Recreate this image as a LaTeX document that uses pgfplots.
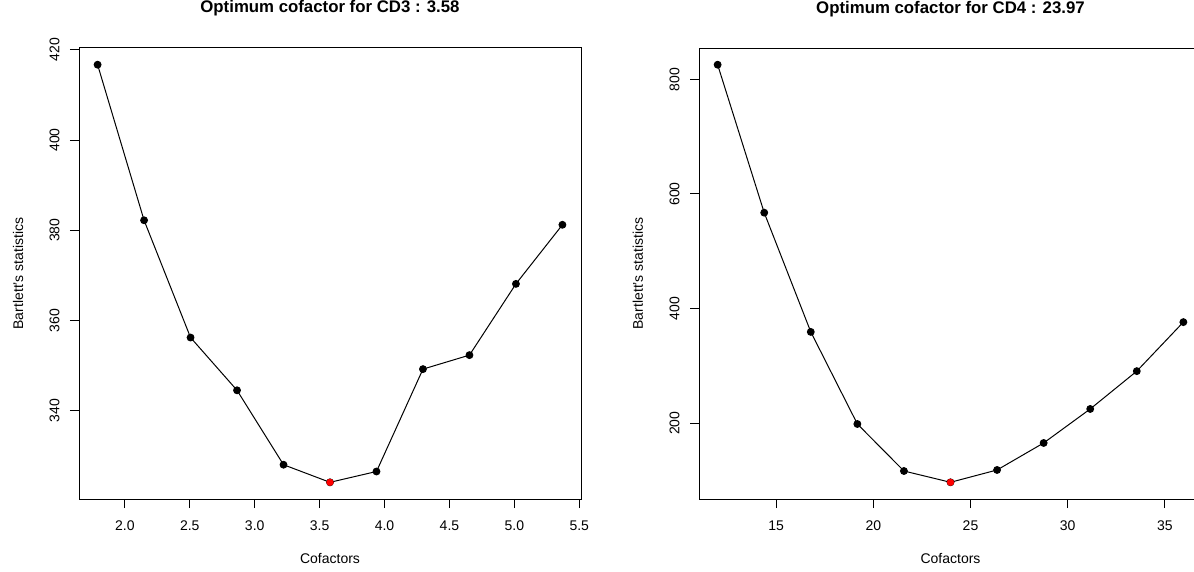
\documentclass[border=0pt]{standalone}
\usepackage{fontspec}
\setmainfont{Liberation Sans}
\usepackage{pgfplots}
\pgfplotsset{compat=1.18}

\pgfplotsset{
  rbase/.style={
    scale only axis,
    axis line style={line width=1pt},
    tick style={line width=1pt,black},
    tick align=outside,
    major tick length=9pt,
    xtick pos=bottom, ytick pos=left,
    /pgf/number format/assume math mode=true,
    tick label style={font=\fontsize{14}{17}\selectfont},
    label style={font=\fontsize{14}{17}\selectfont},
    title style={font=\bfseries\fontsize{16.8}{20}\selectfont,
      at={(axis description cs:0.5,1.0643)},anchor=base,yshift=0pt},
    yticklabel style={rotate=90,anchor=south},
    xticklabel shift=9pt,
    yticklabel shift=7pt,
    xlabel={Cofactors},
    ylabel={Bartlett's statistics},
  },
  curve/.style={black,line width=1pt,mark=*,mark size=3.4pt},
  best/.style={only marks,mark=*,mark size=3.4pt,color=red},
}

\begin{document}
\begin{tikzpicture}[x=1pt,y=1pt]
\useasboundingbox (0,0) rectangle (1194,571);
\clip (0,0) rectangle (1194,571);

% CD3
\begin{axis}[rbase,
  at={(79pt,72pt)}, anchor=south west,
  width=502pt, height=451pt,
  xmin=1.6468, xmax=5.5132, ymin=320.40, ymax=420.40,
  xtick={2,2.5,...,5.5},
  xticklabel style={/pgf/number format/.cd,fixed,fixed zerofill,precision=1},
  ytick={340,360,380,400,420},
  title={Optimum cofactor for CD3 : 3.58},
  xlabel style={at={(axis description cs:0.5,-0.1330)},anchor=center},
  ylabel style={at={(axis description cs:-0.1215,0.5)},anchor=center},
]
\addplot[curve] coordinates {
  (1.790,416.7) (2.148,382.2) (2.506,356.2) (2.864,344.5) (3.222,328.0)
  (3.580,324.1) (3.938,326.5) (4.296,349.2) (4.654,352.3) (5.012,368.1)
  (5.370,381.2)
};
\addplot[best] coordinates {(3.580,324.1)};
\end{axis}

% CD4
\begin{axis}[rbase,
  at={(699pt,72pt)}, anchor=south west,
  width=503pt, height=451pt,
  xmin=11.026, xmax=36.914, ymin=67.96, ymax=854.64,
  xtick={15,20,...,35},
  ytick={200,400,600,800},
  title={Optimum cofactor for CD4 : 23.97},
  xlabel style={at={(axis description cs:0.5,-0.1330)},anchor=center},
  ylabel style={at={(axis description cs:-0.1213,0.5)},anchor=center},
]
\addplot[curve] coordinates {
  (11.985,825.5) (14.382,567.4) (16.779,359.4) (19.176,198.8) (21.573,116.8)
  (23.970,97.1) (26.367,118.6) (28.764,165.7) (31.161,225.0) (33.558,291.0)
  (35.955,376.5)
};
\addplot[best] coordinates {(23.970,97.1)};
\end{axis}
\end{tikzpicture}
\end{document}
